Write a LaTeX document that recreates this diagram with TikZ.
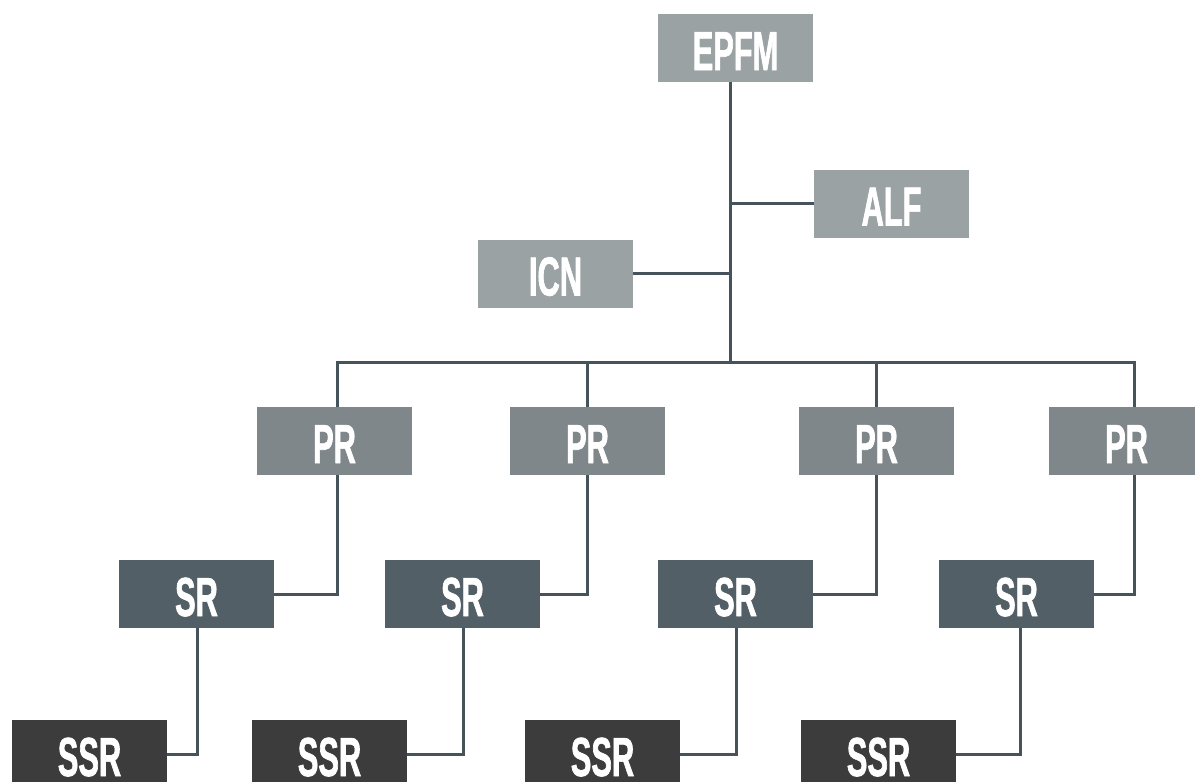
\documentclass[tikz,border=0pt]{standalone}
\usepackage{fontspec}
\usepackage{tikz}
\usetikzlibrary{calc}
\newfontfamily\boxfont{Liberation Sans}[FakeStretch=0.56,FakeBold=1.2]
\definecolor{headgrey}{HTML}{9AA2A4}
\definecolor{prgrey}{HTML}{7F878B}
\definecolor{srgrey}{HTML}{535F66}
\definecolor{ssrgrey}{HTML}{3C3C3C}
\definecolor{linegrey}{HTML}{47535A}
\def\headnode{\node[orgbox,fill=headgrey]}
\def\prnode{\node[orgbox,fill=prgrey]}
\def\srnode{\node[orgbox,fill=srgrey]}
\def\ssrnode{\node[orgbox,fill=ssrgrey]}

\begin{document}
\begin{tikzpicture}[x=1pt,y=-1pt,
  orgbox/.style={rectangle,minimum width=155pt,minimum height=68pt,inner sep=0pt,
    text=white,font=\boxfont\bfseries\fontsize{55}{55}\selectfont,text height=44pt,text depth=0pt},
  link/.style={draw=linegrey,line width=3pt}]
\useasboundingbox (0,0) rectangle (1195,782);
\headnode (epfm) at (735.5,48) {EPFM};
\headnode (alf) at (891.5,203.5) {ALF};
\headnode (icn) at (555.5,273.5) {ICN};
\prnode (pr1) at (334.5,441) {PR};
\prnode (pr2) at (587.5,441) {PR};
\prnode (pr3) at (876.5,441) {PR};
\prnode (pr4) at (1126.5,441) {PR};
\srnode (sr1) at (196.5,594) {SR};
\srnode (sr2) at (462.5,594) {SR};
\srnode (sr3) at (735.5,594) {SR};
\srnode (sr4) at (1016.5,594) {SR};
\ssrnode (ssr1) at (89.5,754) {SSR};
\ssrnode (ssr2) at (329.5,754) {SSR};
\ssrnode (ssr3) at (602.5,754) {SSR};
\ssrnode (ssr4) at (878.5,754) {SSR};
% spine and bus
\coordinate (spine) at (730,362);
\coordinate (busl) at (337,362);
\coordinate (busr) at (1134,362);
\draw[link] (epfm.south -| spine) -- (spine);
\draw[link] (alf.west) -- (alf.west -| spine);
\draw[link] (icn.east) -- (icn.east -| spine);
\draw[link,line cap=rect] (busl) -- (busr);
% bus to PR, PR to SR
\foreach \i/\x in {1/337,2/587,3/876,4/1134} {
  \draw[link] (\x,362) -- (pr\i.north -| \x,0);
  \draw[link] (pr\i.south -| \x,0) |- (sr\i.east);
}
% SR to SSR
\foreach \i/\x in {1/197,2/463,3/736,4/1020} {
  \draw[link] (sr\i.south -| \x,0) |- (ssr\i.east);
}
\end{tikzpicture}
\end{document}
